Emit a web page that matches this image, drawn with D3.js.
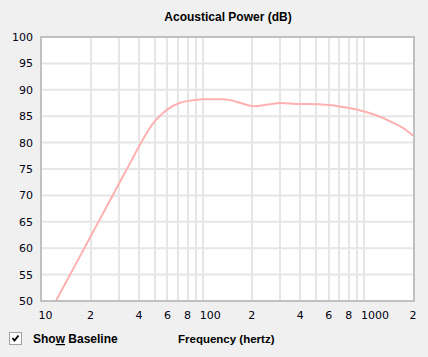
<!DOCTYPE html>
<html>
<head>
<meta charset="utf-8">
<script src="https://cdn.jsdelivr.net/npm/d3@7"></script>
<style>
  html, body { margin: 0; padding: 0; background: #f0f0f0; }
  svg { display: block; }
</style>
</head>
<body>
<script>
// ---- data ----
const freqHz = [12, 15, 20, 25, 30, 35, 40, 45, 50, 55, 60, 70, 80, 90, 100, 130, 150, 175, 205, 250, 300, 400, 450, 600, 700, 850, 1000, 1250, 1510, 1740, 2000];
const powerDb = [49.6, 55.1, 62.2, 67.7, 72.2, 76.0, 79.3, 82.0, 84.0, 85.3, 86.3, 87.4, 87.9, 88.1, 88.2, 88.2, 88.0, 87.4, 86.9, 87.2, 87.5, 87.3, 87.3, 87.1, 86.85, 86.4, 85.9, 84.9, 83.75, 82.75, 81.35];
const yTicks = [50, 55, 60, 65, 70, 75, 80, 85, 90, 95, 100];
const xGrid = [20, 30, 40, 50, 60, 70, 80, 90, 100, 200, 300, 400, 500, 600, 700, 800, 900, 1000];
const xTickValues = [10, 20, 40, 60, 80, 100, 200, 400, 600, 800, 1000, 2000];
const xTickLabels = ["10", "2", "4", "6", "8", "100", "2", "4", "6", "8", "1000", "2"];
const titleText = "Acoustical Power (dB)";
const xTitleText = "Frequency (hertz)";

// ---- layout ----
const W = 428, H = 357;
const pL = 42, pR = 413, pT = 37, pB = 301;

const svg = d3.select("body").append("svg").attr("width", W).attr("height", H);
svg.append("rect").attr("width", W).attr("height", H).attr("fill", "#f0f0f0");

const x = d3.scaleLog().domain([10, 2000]).range([pL, pR]);
const y = d3.scaleLinear().domain([50, 100]).range([pB, pT]);

// plot background
svg.append("rect").attr("x", pL).attr("y", pT).attr("width", pR - pL).attr("height", pB - pT).attr("fill", "#fff");

// gridlines
svg.append("g").selectAll("line").data(yTicks.filter(d => d > 50 && d < 100)).join("line")
  .attr("x1", pL).attr("x2", pR).attr("y1", d => y(d)).attr("y2", d => y(d))
  .attr("stroke", "#e6e6e6").attr("stroke-width", 2);
svg.append("g").selectAll("line").data(xGrid).join("line")
  .attr("x1", d => Math.round(x(d))).attr("x2", d => Math.round(x(d))).attr("y1", pT).attr("y2", pB)
  .attr("stroke", "#e6e6e6").attr("stroke-width", 2);

// clip
svg.append("clipPath").attr("id", "clip").append("rect")
  .attr("x", pL).attr("y", pT).attr("width", pR - pL).attr("height", pB - pT);

// curve
const line = d3.line().x((d, i) => x(freqHz[i])).y(d => y(d)).curve(d3.curveMonotoneX);
svg.append("path").attr("d", line(powerDb)).attr("clip-path", "url(#clip)")
  .attr("fill", "none").attr("stroke", "#ffb0b0").attr("stroke-width", 2);

// border
svg.append("rect").attr("x", pL - 1).attr("y", pT).attr("width", pR - pL + 2).attr("height", pB - pT)
  .attr("fill", "none").attr("stroke", "#c0c0c0").attr("stroke-width", 2);

// y tick labels
svg.append("g").selectAll("text").data(yTicks).join("text")
  .attr("x", 33).attr("y", d => y(d)).attr("dy", "0.36em")
  .attr("text-anchor", "end").attr("font-family", "DejaVu Sans").attr("font-size", 11)
  .attr("fill", "#000010").text(d => d);

// x tick labels
svg.append("g").selectAll("text").data(xTickValues).join("text")
  .attr("x", d => x(d) - 3.5).attr("y", 319)
  .attr("text-anchor", "start").attr("font-family", "DejaVu Sans").attr("font-size", 11)
  .attr("fill", "#000010").text((d, i) => xTickLabels[i]);

// title
svg.append("text").attr("x", 228).attr("y", 21).attr("text-anchor", "middle")
  .attr("font-family", "Liberation Sans, Arial, sans-serif").attr("font-weight", "bold").attr("font-size", 12)
  .attr("fill", "#000").text(titleText);

// x axis title
svg.append("text").attr("x", 178).attr("y", 343).attr("text-anchor", "start")
  .attr("font-family", "Liberation Sans, Arial, sans-serif").attr("font-weight", "bold").attr("font-size", 11.5)
  .attr("fill", "#000").text(xTitleText);

// checkbox
const cb = svg.append("g");
cb.append("rect").attr("x", 9.5).attr("y", 332.5).attr("width", 12).attr("height", 12)
  .attr("fill", "#fff").attr("stroke", "#a0a0a0");
cb.append("path").attr("d", "M12.5,338 L14.5,340.5 L18.5,335.5")
  .attr("fill", "none").attr("stroke", "#000").attr("stroke-width", 1.8);
const sb = svg.append("text").attr("x", 33).attr("y", 343)
  .attr("font-family", "Liberation Sans, Arial, sans-serif").attr("font-weight", "bold").attr("font-size", 12)
  .attr("fill", "#000");
sb.append("tspan").text("Sho");
sb.append("tspan").attr("text-decoration", "underline").text("w");
sb.append("tspan").text(" Baseline");
</script>
</body>
</html>
